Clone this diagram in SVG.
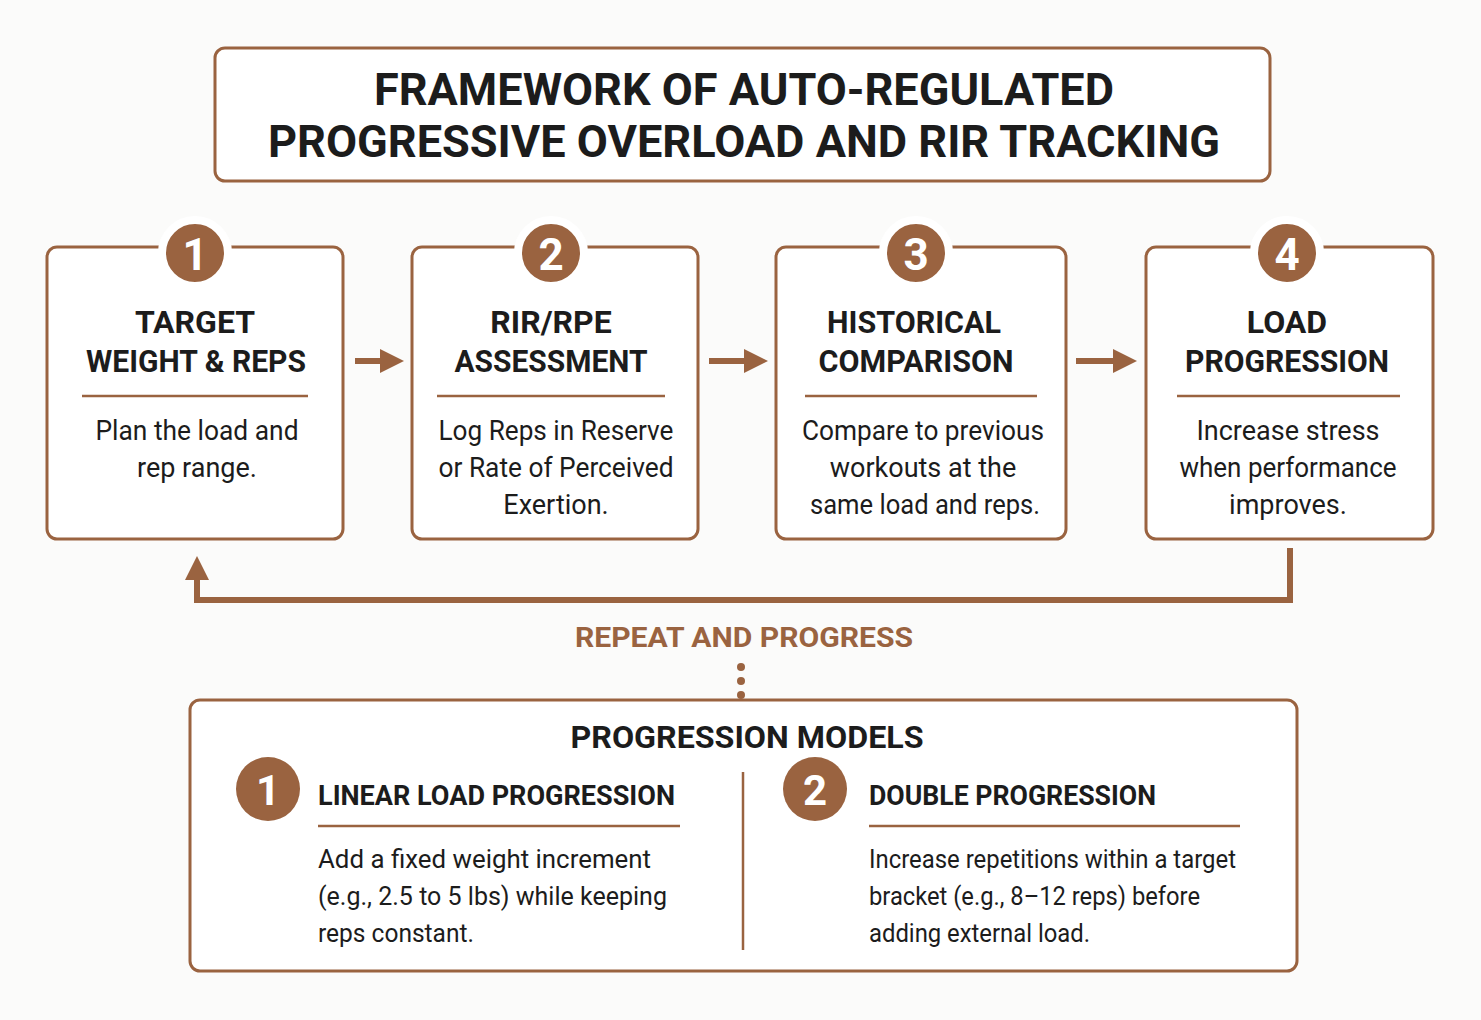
<svg xmlns="http://www.w3.org/2000/svg" width="1481" height="1020" viewBox="0 0 1481 1020">
<defs>
<style>
.box{fill:#fff;stroke:#9a6340;stroke-width:3}
.ln{stroke:#9a6340;stroke-width:2.5}
.c{fill:#9a6340}
.num{font-family:Roboto,"Liberation Sans",sans-serif;font-weight:bold;fill:#fff;text-anchor:middle}
.t{font-family:Roboto,"Liberation Sans",sans-serif;font-weight:bold;fill:#1c1c1c}
.b{font-family:Roboto,"Liberation Sans",sans-serif;fill:#1c1c1c}
.m{text-anchor:middle}
.con{stroke:#9a6340;stroke-width:6;fill:none}
</style>
<marker id="ah" viewBox="0 0 10 10" refX="5" refY="5" markerWidth="4" markerHeight="4" orient="auto"><path d="M0,0L10,5L0,10z" fill="#9a6340"/></marker>
</defs>
<rect width="1481" height="1020" fill="#fbfbfa"/>
<g id="title">
<rect class="box" x="215" y="48" width="1055" height="133" rx="10"/>
<text class="t m" x="744" y="105" font-size="44" textLength="740" lengthAdjust="spacingAndGlyphs">FRAMEWORK OF AUTO-REGULATED</text>
<text class="t m" x="744" y="157" font-size="44" textLength="952" lengthAdjust="spacingAndGlyphs">PROGRESSIVE OVERLOAD AND RIR TRACKING</text>
</g>
<g id="step1">
<rect class="box" x="47" y="247" width="296" height="292" rx="10"/>
<circle class="c" cx="195" cy="253" r="33" stroke="#fff" stroke-width="8"/>
<text class="num" x="195" y="270" font-size="44">1</text>
<text class="t m" x="195" y="333" font-size="32">TARGET</text>
<text class="t m" x="196" y="372" font-size="32" textLength="220" lengthAdjust="spacingAndGlyphs">WEIGHT &amp; REPS</text>
<line class="ln" x1="82" y1="396" x2="308" y2="396"/>
<text class="b m" x="197" y="440" font-size="27" textLength="203" lengthAdjust="spacingAndGlyphs">Plan the load and</text>
<text class="b m" x="197" y="477" font-size="27">rep range.</text>
</g>
<g id="step2">
<rect class="box" x="412" y="247" width="286" height="292" rx="10"/>
<circle class="c" cx="551" cy="253" r="33" stroke="#fff" stroke-width="8"/>
<text class="num" x="551" y="270" font-size="44">2</text>
<text class="t m" x="551" y="333" font-size="32">RIR/RPE</text>
<text class="t m" x="551" y="372" font-size="32" textLength="193" lengthAdjust="spacingAndGlyphs">ASSESSMENT</text>
<line class="ln" x1="437" y1="396" x2="665" y2="396"/>
<text class="b m" x="556" y="440" font-size="27" textLength="235" lengthAdjust="spacingAndGlyphs">Log Reps in Reserve</text>
<text class="b m" x="556" y="477" font-size="27" textLength="235" lengthAdjust="spacingAndGlyphs">or Rate of Perceived</text>
<text class="b m" x="556" y="514" font-size="27">Exertion.</text>
</g>
<g id="step3">
<rect class="box" x="776" y="247" width="290" height="292" rx="10"/>
<circle class="c" cx="916" cy="253" r="33" stroke="#fff" stroke-width="8"/>
<text class="num" x="916" y="270" font-size="44">3</text>
<text class="t m" x="914" y="333" font-size="32" textLength="174" lengthAdjust="spacingAndGlyphs">HISTORICAL</text>
<text class="t m" x="916" y="372" font-size="32" textLength="195" lengthAdjust="spacingAndGlyphs">COMPARISON</text>
<line class="ln" x1="805" y1="396" x2="1037" y2="396"/>
<text class="b m" x="923" y="440" font-size="27" textLength="242" lengthAdjust="spacingAndGlyphs">Compare to previous</text>
<text class="b m" x="923" y="477" font-size="27">workouts at the</text>
<text class="b m" x="925" y="514" font-size="27" textLength="230" lengthAdjust="spacingAndGlyphs">same load and reps.</text>
</g>
<g id="step4">
<rect class="box" x="1146" y="247" width="287" height="292" rx="10"/>
<circle class="c" cx="1287" cy="253" r="33" stroke="#fff" stroke-width="8"/>
<text class="num" x="1287" y="270" font-size="44">4</text>
<text class="t m" x="1287" y="333" font-size="32">LOAD</text>
<text class="t m" x="1287" y="372" font-size="32" textLength="204" lengthAdjust="spacingAndGlyphs">PROGRESSION</text>
<line class="ln" x1="1177" y1="396" x2="1400" y2="396"/>
<text class="b m" x="1288" y="440" font-size="27">Increase stress</text>
<text class="b m" x="1288" y="477" font-size="27" textLength="217" lengthAdjust="spacingAndGlyphs">when performance</text>
<text class="b m" x="1288" y="514" font-size="27">improves.</text>
</g>
<g id="connectors">
<line class="con" x1="355" y1="361" x2="392" y2="361" marker-end="url(#ah)"/>
<line class="con" x1="709" y1="361" x2="756" y2="361" marker-end="url(#ah)"/>
<line class="con" x1="1076" y1="361" x2="1125" y2="361" marker-end="url(#ah)"/>
<path class="con" d="M1290,548V600H197V568" marker-end="url(#ah)"/>
<circle class="c" cx="741" cy="667" r="4"/>
<circle class="c" cx="741" cy="681" r="4"/>
<circle class="c" cx="741" cy="695" r="4"/>
</g>
<text x="744" y="647" font-size="28" font-weight="bold" fill="#9a6340" text-anchor="middle" font-family="Roboto,'Liberation Sans',sans-serif" textLength="338" lengthAdjust="spacingAndGlyphs">REPEAT AND PROGRESS</text>
<g id="models">
<rect class="box" x="190" y="700" width="1107" height="271" rx="10"/>
<text class="t m" x="747" y="748" font-size="32" textLength="353" lengthAdjust="spacingAndGlyphs">PROGRESSION MODELS</text>
<line class="ln" x1="743" y1="772" x2="743" y2="950"/>
<circle class="c" cx="268" cy="789" r="32"/>
<text class="num" x="268" y="805" font-size="42">1</text>
<text class="t" x="318" y="805" font-size="28" textLength="357" lengthAdjust="spacingAndGlyphs">LINEAR LOAD PROGRESSION</text>
<line class="ln" x1="318" y1="826" x2="680" y2="826"/>
<text class="b" x="318" y="868" font-size="26" textLength="333" lengthAdjust="spacingAndGlyphs">Add a fixed weight increment</text>
<text class="b" x="318" y="905" font-size="26" textLength="349" lengthAdjust="spacingAndGlyphs">(e.g., 2.5 to 5 lbs) while keeping</text>
<text class="b" x="318" y="942" font-size="26" textLength="156" lengthAdjust="spacingAndGlyphs">reps constant.</text>
<circle class="c" cx="815" cy="789" r="32"/>
<text class="num" x="815" y="805" font-size="42">2</text>
<text class="t" x="869" y="805" font-size="28" textLength="287" lengthAdjust="spacingAndGlyphs">DOUBLE PROGRESSION</text>
<line class="ln" x1="869" y1="826" x2="1240" y2="826"/>
<text class="b" x="869" y="868" font-size="26" textLength="367" lengthAdjust="spacingAndGlyphs">Increase repetitions within a target</text>
<text class="b" x="869" y="905" font-size="26" textLength="331" lengthAdjust="spacingAndGlyphs">bracket (e.g., 8–12 reps) before</text>
<text class="b" x="869" y="942" font-size="26" textLength="221" lengthAdjust="spacingAndGlyphs">adding external load.</text>
</g>
</svg>
